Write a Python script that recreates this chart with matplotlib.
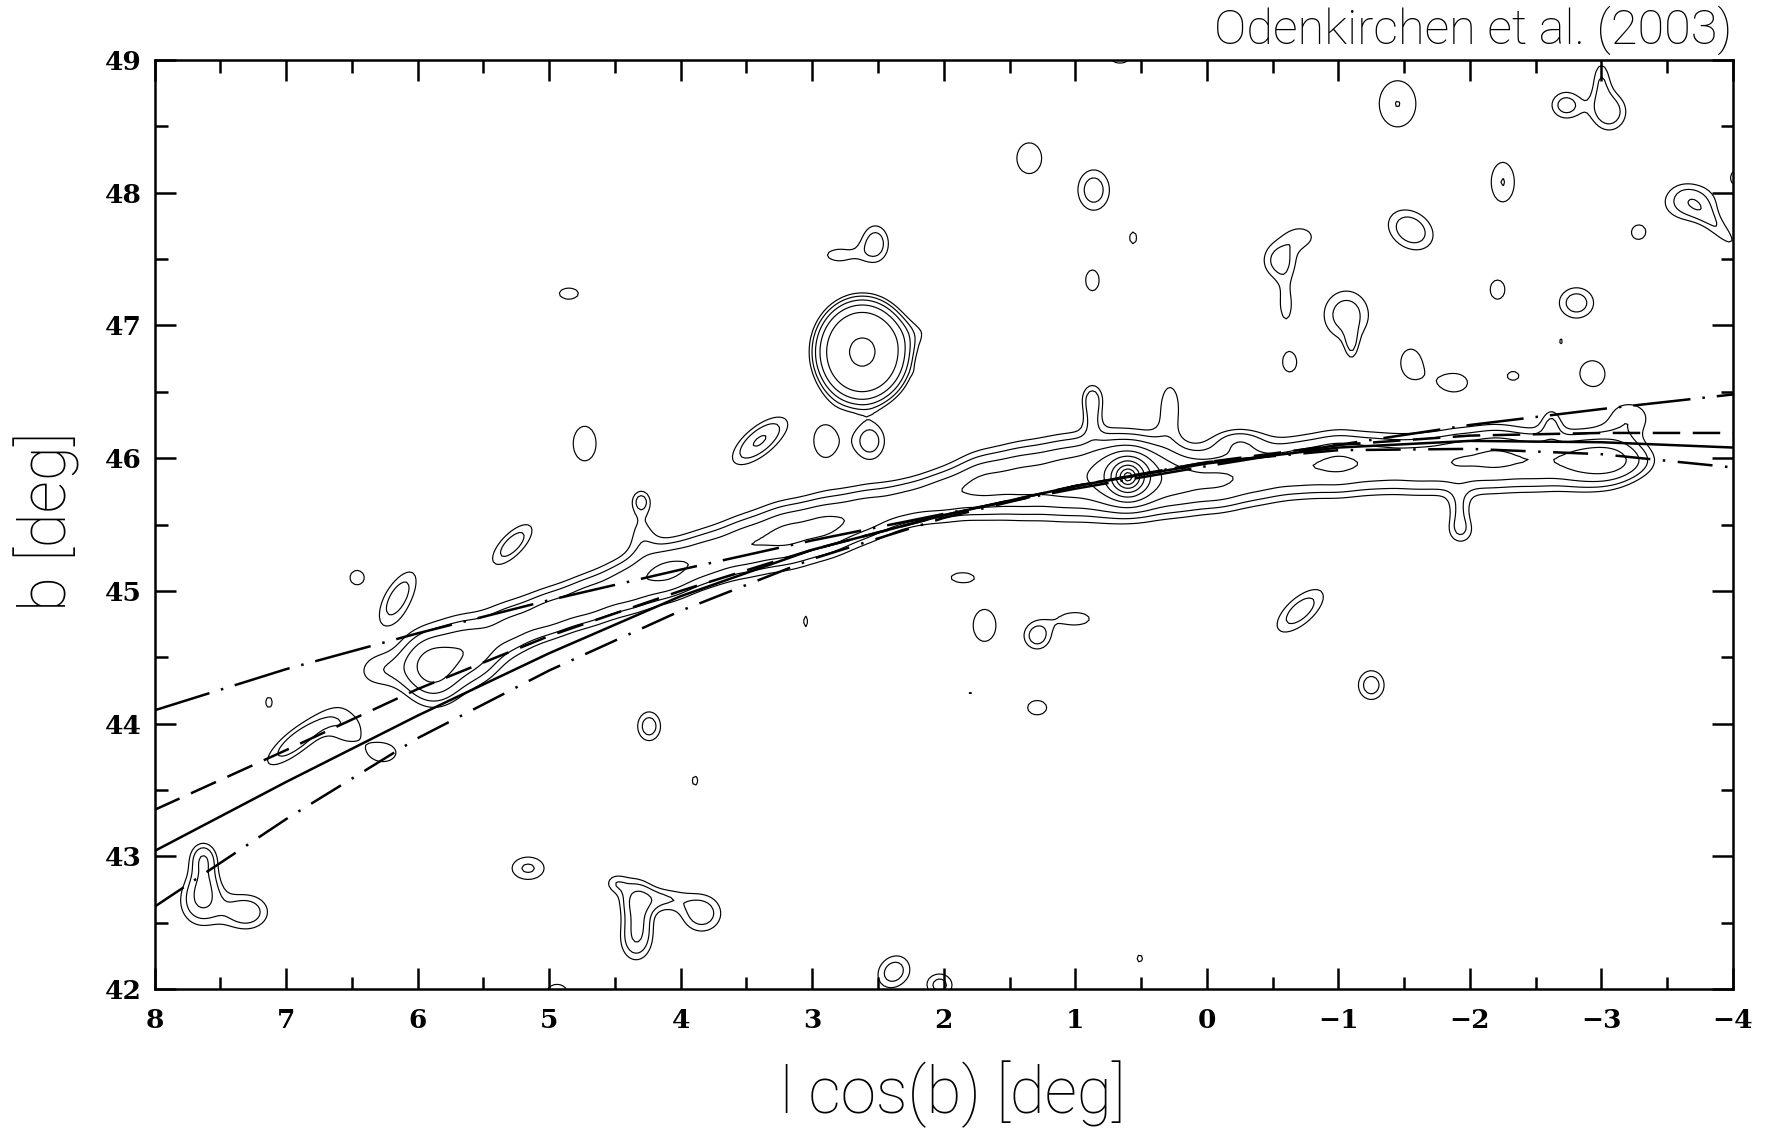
import numpy as np
import matplotlib
matplotlib.use("Agg")
import matplotlib.pyplot as plt

# --- fitted orbit tracks, sampled at integer l cos(b) ---
track_l = [8, 7, 6, 5, 4, 3, 2, 1, 0, -1, -2, -3, -4]
track_solid = [43.04, 43.56, 44.06, 44.53, 44.96, 45.31, 45.57, 45.79, 45.96, 46.08, 46.13, 46.12, 46.08]
track_dash = [43.35, 43.80, 44.26, 44.66, 45.00, 45.31, 45.57, 45.79, 45.97, 46.10, 46.17, 46.19, 46.19]
track_dashdotdot = [42.62, 43.28, 43.89, 44.40, 44.85, 45.24, 45.55, 45.79, 45.97, 46.06, 46.07, 46.03, 45.93]
track_longdash = [44.10, 44.41, 44.68, 44.93, 45.16, 45.38, 45.58, 45.77, 45.94, 46.10, 46.25, 46.37, 46.48]

# --- tidal tail density ridge: l, b, peak, cross-track width ---
tail_l = [6.30, 5.90, 5.60, 5.30, 5.00, 4.70, 4.40, 4.10, 3.80, 3.50, 3.20, 2.90, 2.60, 2.30,
          2.00, 1.70, 1.40, 1.10, 0.80, 0.50, 0.20, -0.10, -0.40, -0.70, -1.00, -1.30, -1.60,
          -1.90, -2.20, -2.50, -2.80, -3.05, -3.25]
tail_b = [44.40, 44.42, 44.56, 44.72, 44.83, 44.93, 45.04, 45.15, 45.25, 45.34, 45.42, 45.49, 45.58, 45.66,
          45.72, 45.80, 45.83, 45.85, 45.87, 45.86, 45.82, 45.83, 45.88, 45.93, 45.96, 45.96, 45.95,
          45.97, 46.00, 45.98, 45.98, 45.98, 45.98]
tail_peak = [1.2, 3.4, 2.3, 1.9, 2.0, 2.1, 2.2, 2.7, 2.2, 2.3, 2.6, 2.6, 2.2, 1.9,
             2.2, 2.6, 2.6, 2.7, 2.6, 2.4, 2.2, 2.4, 2.1, 2.2, 2.5, 2.1, 2.1,
             2.3, 2.5, 2.2, 2.3, 2.6, 1.2]
tail_width = [0.12, 0.19, 0.19, 0.15, 0.14, 0.14, 0.15, 0.15, 0.15, 0.16, 0.17, 0.16, 0.15, 0.13,
              0.14, 0.17, 0.19, 0.20, 0.20, 0.19, 0.17, 0.16, 0.16, 0.16, 0.17, 0.16, 0.16,
              0.17, 0.17, 0.16, 0.15, 0.14, 0.10]
tail_length = 0.16

# --- other overdensities: l, b, peak, sigma_a, sigma_b, angle [deg], profile exponent ---
src_l = [0.60, 0.60, 2.62, 2.15, 2.17,
         -1.45, -2.73, -3.06, -3.00, 1.35, 0.86, 0.56, -2.25, -1.55, -0.55, -0.72, -0.60,
         -3.28, -3.67, -3.90, -4.05, 0.87, -1.06, -1.10, -2.21, -2.81, -2.69, -0.63, -1.55,
         -1.88, -2.33, -2.93, -3.22, 0.66,
         2.52, 2.80, 4.85, 4.73, 3.40, 2.90, 2.56, 0.87, 0.87, 0.28,
         4.30, 4.30, -0.24, -1.93, -1.92, -2.62,
         5.28, 6.46, 6.15, 7.13, 6.92, 6.54, 6.26, 7.63, 7.65, 7.30, 7.62,
         5.16, 6.84, 4.34, 4.34, 3.84, 4.13, 4.32, 4.50, 4.94, 2.38, 2.03,
         3.89, 4.24, 3.05, 1.86, 1.69, 1.29, 1.00, 1.80, 1.29, -0.71, -1.25, 0.51]
src_b = [45.86, 45.88, 46.80, 46.95, 46.64,
         48.67, 48.66, 48.61, 48.86, 48.26, 48.02, 47.66, 48.08, 47.72, 47.49, 47.67, 47.15,
         47.70, 47.93, 47.72, 48.12, 47.34, 47.08, 46.85, 47.27, 47.17, 46.88, 46.72, 46.72,
         46.57, 46.62, 46.64, 46.31, 49.02,
         47.62, 47.53, 47.24, 46.11, 46.13, 46.13, 46.13, 46.46, 46.30, 46.40,
         45.68, 45.45, 46.13, 45.45, 45.62, 46.28,
         45.35, 45.10, 44.95, 44.16, 43.87, 43.97, 43.78, 43.00, 42.66, 42.58, 42.83,
         42.91, 42.88, 42.69, 42.36, 42.57, 42.68, 42.52, 42.80, 41.97, 42.13, 42.03,
         43.57, 43.98, 44.77, 45.10, 44.74, 44.66, 44.79, 44.23, 44.12, 44.85, 44.29, 42.23]
src_peak = [40.0, 1.2, 6.45, 0.8, 0.5,
            1.46, 1.75, 1.9, 1.3, 1.3, 1.8, 1.1, 1.47, 1.9, 1.7, 1.2, 1.2,
            1.2, 1.8, 1.2, 1.3, 1.2, 1.8, 1.1, 1.2, 1.8, 1.05, 1.2, 1.25,
            1.25, 1.15, 1.3, 1.3, 1.3,
            1.8, 1.2, 1.2, 1.3, 2.2, 1.3, 1.8, 1.5, 1.0, 1.3,
            1.5, 1.0, 1.35, 1.35, 1.0, 1.1,
            1.8, 1.2, 1.8, 1.1, 1.9, 1.3, 1.3, 1.6, 1.9, 1.9, 1.1,
            1.55, 1.02, 1.7, 1.7, 1.85, 1.3, 1.0, 1.1, 1.3, 1.8, 1.7,
            1.1, 1.8, 1.1, 1.2, 1.45, 1.8, 1.25, 1.05, 1.2, 1.8, 1.8, 1.1]
src_sa = [0.03, 0.30, 0.29, 0.12, 0.04,
          0.16, 0.10, 0.11, 0.06, 0.13, 0.11, 0.06, 0.10, 0.16, 0.11, 0.11, 0.06,
          0.085, 0.17, 0.20, 0.08, 0.085, 0.155, 0.04, 0.093, 0.12, 0.03, 0.085, 0.11,
          0.15, 0.08, 0.13, 0.15, 0.10,
          0.09, 0.14, 0.12, 0.12, 0.20, 0.12, 0.10, 0.07, 0.05, 0.08,
          0.06, 0.09, 0.15, 0.09, 0.06, 0.06,
          0.18, 0.09, 0.20, 0.06, 0.24, 0.13, 0.13, 0.08, 0.13, 0.14, 0.08,
          0.13, 0.03, 0.10, 0.10, 0.13, 0.13, 0.08, 0.07, 0.11, 0.12, 0.09,
          0.05, 0.08, 0.04, 0.14, 0.10, 0.09, 0.16, 0.04, 0.12, 0.20, 0.09, 0.05]
src_sb = [0.03, 0.22, 0.32, 0.10, 0.03,
          0.20, 0.09, 0.12, 0.13, 0.16, 0.14, 0.10, 0.17, 0.12, 0.12, 0.08, 0.15,
          0.085, 0.12, 0.06, 0.08, 0.13, 0.165, 0.10, 0.12, 0.105, 0.04, 0.115, 0.15,
          0.10, 0.06, 0.13, 0.12, 0.06,
          0.12, 0.07, 0.07, 0.18, 0.085, 0.165, 0.12, 0.09, 0.10, 0.18,
          0.07, 0.14, 0.08, 0.09, 0.10, 0.09,
          0.075, 0.09, 0.085, 0.09, 0.075, 0.12, 0.09, 0.09, 0.15, 0.11, 0.12,
          0.09, 0.03, 0.12, 0.13, 0.12, 0.07, 0.12, 0.06, 0.09, 0.10, 0.08,
          0.08, 0.10, 0.09, 0.06, 0.14, 0.09, 0.07, 0.03, 0.09, 0.09, 0.10, 0.06]
src_angle = [0, 0, 0, 0, 0,
             0, 0, 0, 0, 0, 0, 0, 0, 32, 0, 0, 0,
             0, 0, 45, 0, 0, 0, 0, 0, 0, 0, 0, 0,
             0, 0, 0, 0, 0,
             0, 0, 0, 0, 141, 0, 0, 0, 0, 0,
             0, 0, 0, 0, 0, 0,
             135, 0, 121, 0, 142, 0, 0, 0, 0, 0, 0,
             0, 0, 0, 0, 0, 0, 0, 0, 0, 135, 0,
             0, 0, 0, 0, 0, 0, 0, 0, 0, 139, 0, 0]
src_shape = [1, 2, 4] + [2] * (len(src_l) - 3)

contour_levels = 1.45 ** np.arange(11)


def lump(L, B, l0, b0, peak, sa, sb, angle, shape):
    t = np.radians(angle)
    u = ((L - l0) * np.cos(t) + (B - b0) * np.sin(t)) / sa
    v = (-(L - l0) * np.sin(t) + (B - b0) * np.cos(t)) / sb
    return peak * np.exp(-0.5 * (u * u + v * v) ** (shape / 2.0))


grid_l = np.arange(-4.3, 8.3, 0.022)
grid_b = np.arange(41.7, 49.3, 0.022)
L, B = np.meshgrid(grid_l, grid_b)
density = np.zeros_like(L)

# tail lumps oriented along the local ridge direction
tl = np.array(tail_l)
tb = np.array(tail_b)
dirs = np.degrees(np.arctan2(np.gradient(tb), np.gradient(tl)))
for i in range(len(tl)):
    density += lump(L, B, tl[i], tb[i], tail_peak[i], tail_length, tail_width[i], dirs[i], 2)

for i in range(len(src_l)):
    density += lump(L, B, src_l[i], src_b[i], src_peak[i], src_sa[i], src_sb[i],
                    src_angle[i], src_shape[i])

fig = plt.figure(figsize=(17.68, 11.28), dpi=100)
ax = fig.add_axes([0.0874, 0.1232, 0.8928, 0.8236])

ax.contour(L, B, density, levels=contour_levels, colors="black", linewidths=0.85)

ax.plot(track_l, track_solid, color="black", lw=1.8, ls="-")
ax.plot(track_l, track_dash, color="black", lw=1.8, ls=(0, (11, 5)))
ax.plot(track_l, track_dashdotdot, color="black", lw=1.8, ls=(0, (14, 5, 1, 5)))
ax.plot(track_l, track_longdash, color="black", lw=1.8, ls=(0, (23, 4.8, 1, 4.8)))

ax.set_xlim(8, -4)
ax.set_ylim(42, 49)
ax.set_xticks(np.arange(-4, 9, 1))
ax.set_xticks(np.arange(-4, 8.5, 0.5), minor=True)
ax.set_yticks(np.arange(42, 50, 1))
ax.set_yticks(np.arange(42, 49.5, 0.5), minor=True)
ax.tick_params(which="both", direction="in", top=True, right=True, width=1.8)
ax.tick_params(which="major", length=15)
ax.tick_params(which="minor", length=9)
ax.tick_params(axis="x", which="major", pad=14)
ax.tick_params(axis="y", which="major", pad=9)
for s in ax.spines.values():
    s.set_linewidth(1.8)

for lab in ax.get_xticklabels() + ax.get_yticklabels():
    lab.set_fontfamily("DejaVu Serif")
    lab.set_fontweight("bold")
    lab.set_fontsize(19)

label_font = dict(family=["Roboto", "DejaVu Sans"], weight="light")
fig.text(0.539, 0.030, "l cos(b) [deg]", ha="center", va="center", fontsize=46, **label_font)
fig.text(0.0266, 0.538, "b [deg]", ha="center", va="center", rotation=90, fontsize=46, **label_font)
fig.text(0.980, 0.973, "Odenkirchen et al. (2003)", ha="right", va="center", fontsize=35, **label_font)

fig.savefig("out.png", dpi=100)
